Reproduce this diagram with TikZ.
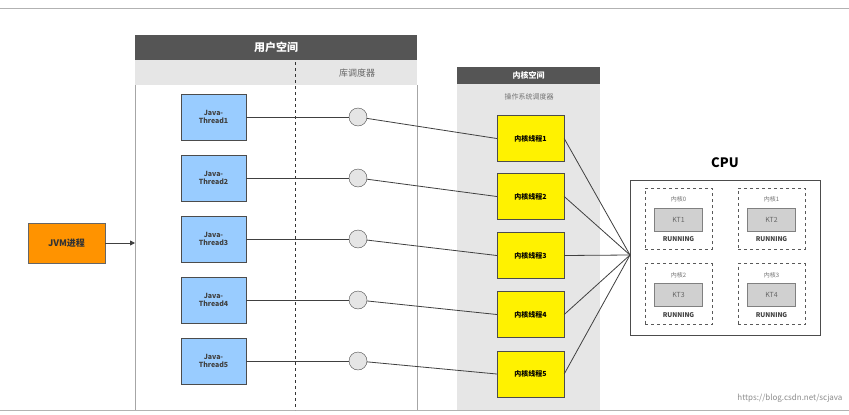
\documentclass[tikz,border=0pt]{standalone}
\usepackage{fontspec}
\setmainfont{Noto Sans CJK SC}
\usetikzlibrary{arrows.meta}
\definecolor{hdr}{HTML}{555555}
\definecolor{band}{HTML}{E6E6E6}
\definecolor{jblue}{HTML}{99CCFF}
\definecolor{ktgray}{HTML}{D0D0D0}
\begin{document}
\begin{tikzpicture}[x=1pt,y=-1pt,
  jt/.style={draw=black!70,fill=jblue,minimum width=65pt,minimum height=46pt,align=center,font=\fontsize{7}{8}\selectfont\bfseries,text=black!75},
  kt/.style={draw=black!70,fill=yellow,minimum width=67pt,minimum height=46pt,font=\fontsize{7}{8}\selectfont\bfseries},
  sc/.style={circle,draw=black!70,fill=black!10,minimum size=18pt,inner sep=0pt},
  ln/.style={draw=black!75,line width=0.8pt},
  core/.style={draw=black!65,dashed,line width=1pt,minimum width=67pt,minimum height=61pt},
  kbox/.style={draw=black!50,fill=ktgray,minimum width=48pt,minimum height=23pt,font=\fontsize{7}{8}\selectfont,text=black!60}]
\useasboundingbox (0,0) rectangle (849,415);
\fill[white] (0,0) rectangle (849,415);
\draw[black!30] (0,8) -- (849,8);
\draw[black!30] (0,410) -- (849,410);
% user space
\fill[hdr] (135,35) rectangle (417,60);
\node[text=white,font=\fontsize{11}{12}\selectfont\bfseries] (us) at (276,47.5) {用户空间};
\fill[band] (135,60) rectangle (417,85);
\draw[black!35] (135,85) -- (135,410) (417,85) -- (417,410);
\draw[black!80,dashed,line width=0.9pt] (295,62) -- (295,410);
\node[text=black!60,font=\fontsize{9}{10}\selectfont] (lib) at (357,73) {库调度器};
% kernel space
\fill[band] (457,84) rectangle (600,410);
\fill[hdr] (457,67) rectangle (600,84);
\node[text=white,font=\fontsize{8}{9}\selectfont\bfseries] (ks) at (528.5,75.5) {内核空间};
\node[text=black!55,font=\fontsize{7}{8}\selectfont] (os) at (529,97) {操作系统调度器};
% CPU
\node[font=\fontsize{13}{14}\selectfont\bfseries] (cpul) at (725,163) {CPU};
\node[draw=black!70,line width=0.8pt,minimum width=190pt,minimum height=155pt] (cpu) at (725,257.5) {};
\foreach \i/\x/\y/\k in {0/678.5/218.5/1,1/771.5/218.5/2,2/678.5/294/3,3/771.5/294/4}{
  \node[core] (c\i) at (\x,\y) {};
  \node[font=\fontsize{6}{7}\selectfont,text=black!55] (cl\i) at (\x,\y-19) {内核\i};
  \node[kbox] (kb\i) at (\x,\y+1) {KT\k};
  \node[font=\fontsize{6.5}{7}\selectfont\bfseries,text=black!75] (r\i) at (\x,\y+21) {RUNNING};
}
\coordinate (hub) at (630,255);
% threads
\foreach \i/\y/\ky in {1/117/138.5,2/178/196.5,3/239/255.5,4/300/314.5,5/361/374}{
  \node[jt] (j\i) at (213.5,\y) {Java-\\Thread\i};
  \node[sc] (s\i) at (358,\y) {};
  \node[kt] (k\i) at (530.5,\ky) {内核线程\i};
  \draw[ln] (j\i) -- (s\i);
  \draw[ln] (s\i) -- (k\i.west);
  \draw[ln] (k\i.east) -- (hub);
}
% JVM
\node[draw=black!60,fill=orange!85!yellow,minimum width=77pt,minimum height=40pt,font=\fontsize{9}{10}\selectfont\bfseries,text=black!80] (jvm) at (66.5,243) {JVM进程};
\coordinate (ue) at (135,243);
\draw[ln,-{Triangle[length=5pt,width=5pt]}] (jvm) -- (ue);
\node[text=black!45,font=\fontsize{8}{9}\selectfont,anchor=south east] (wm) at (846,406) {https://blog.csdn.net/scjava};
\end{tikzpicture}
\end{document}
